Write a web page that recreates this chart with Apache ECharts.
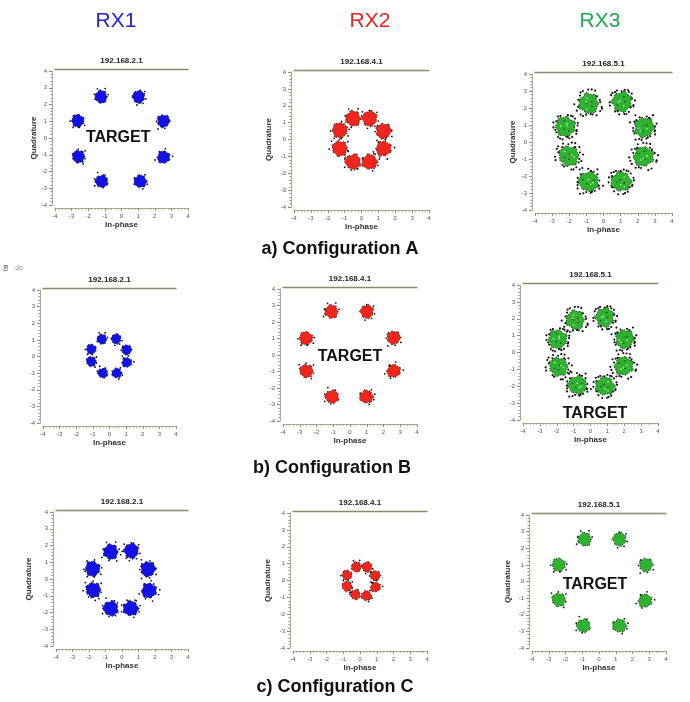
<!DOCTYPE html>
<html>
<head>
<meta charset="utf-8">
<script src="https://cdn.jsdelivr.net/npm/echarts@6/dist/echarts.min.js"></script>
<style>
  html, body { margin: 0; padding: 0; background: #fff; }
  #chart { width: 690px; height: 702px; }
</style>
</head>
<body>
<div id="chart"></div>
<script>
// 8-PSK constellation cluster centres [In-phase, Quadrature] per receiver / configuration
const rx1A = [[-1.23, 2.46], [1.03, 2.46], [2.53, 1.01], [2.53, -1.15], [1.13, -2.59], [-1.19, -2.59], [-2.59, -1.11], [-2.63, 1.03]];
const rx2A = [[-0.50, 1.24], [0.48, 1.24], [1.31, 0.50], [1.31, -0.54], [0.48, -1.33], [-0.50, -1.33], [-1.29, -0.54], [-1.29, 0.54]];
const rx3A = [[-0.87, 2.27], [1.08, 2.37], [2.38, 0.86], [2.34, -0.86], [1.02, -2.33], [-0.87, -2.33], [-2.03, -0.82], [-2.23, 0.90]];
const rx1B = [[-0.46, 1.04], [0.40, 1.06], [1.04, 0.40], [1.04, -0.36], [0.44, -1.00], [-0.40, -1.00], [-1.10, -0.30], [-1.10, 0.44]];
const rx2B = [[-1.11, 2.63], [1.01, 2.63], [2.61, 1.05], [2.61, -0.97], [0.98, -2.53], [-1.07, -2.53], [-2.61, -0.97], [-2.63, 1.01]];
const rx3B = [[-0.91, 1.93], [0.85, 2.08], [2.03, 0.80], [1.97, -0.80], [0.85, -1.99], [-0.78, -1.93], [-1.90, -0.84], [-1.95, 0.78]];
const rx1C = [[-0.68, 1.62], [0.57, 1.68], [1.58, 0.59], [1.64, -0.70], [0.53, -1.76], [-0.68, -1.76], [-1.74, -0.66], [-1.78, 0.61]];
const rx2C = [[-0.22, 0.80], [0.42, 0.80], [0.92, 0.29], [0.92, -0.39], [0.38, -0.90], [-0.28, -0.84], [-0.78, -0.35], [-0.78, 0.31]];
const rx3C = [[-0.86, 2.54], [1.22, 2.54], [2.81, 1.00], [2.75, -1.16], [1.22, -2.66], [-0.92, -2.66], [-2.41, -1.10], [-2.41, 1.00]];

// cluster spread (radius in I/Q units) for each panel, row by row
const clusterRadius = [0.38, 0.45, 0.58, 0.30, 0.40, 0.55, 0.45, 0.30, 0.40];

const receivers = ['RX1', 'RX2', 'RX3'];
const receiverIPs = ['192.168.2.1', '192.168.4.1', '192.168.5.1'];
const configurations = ['a) Configuration A', 'b) Configuration B', 'c) Configuration C'];
const axisMin = -4, axisMax = 4, axisStep = 1;

const panelData = [rx1A, rx2A, rx3A, rx1B, rx2B, rx3B, rx1C, rx2C, rx3C];

// ---- layout & styling ----
const FONT = '"Liberation Sans", Arial, sans-serif';
const receiverColors = ['#1212e6', '#f0261c', '#2fb22f'];
const headerColors = ['#2323d0', '#e8231f', '#1fa84f'];
const panels = [
  { left: 55,  top: 71,  w: 133, h: 134, qGap: 12 },
  { left: 294, top: 72,  w: 135, h: 135, qGap: 18 },
  { left: 535, top: 74,  w: 137, h: 136, qGap: 15 },
  { left: 43,  top: 290, w: 133, h: 133, qGap: null },
  { left: 283, top: 289, w: 134, h: 132, qGap: null },
  { left: 523, top: 285, w: 135, h: 135, qGap: null },
  { left: 56,  top: 512, w: 132, h: 134, qGap: 20 },
  { left: 293, top: 513, w: 134, h: 135, qGap: 18 },
  { left: 532, top: 515, w: 134, h: 133, qGap: 17 }
];
// how many stray (noisy) samples surround each cluster
const strayCount = [4, 6, 22, 3, 5, 22, 8, 3, 5];
// where the "TARGET" marker label sits, in I/Q units (null = none)
const targetAt = [[-0.2, 0.05], null, null, null, [0.0, -0.1], [0.27, -3.62], null, null, [-0.24, -0.2]];

const BUMPS = [1.0, 0.86, 1.1, 0.92, 1.14, 0.88, 1.03, 0.93, 1.12, 0.85, 1.06, 0.95, 1.12, 0.9];
const STRAY_ANGLE = [0.3, 1.1, 2.0, 2.8, 3.7, 4.5, 5.3, 6.0, 0.7, 1.6, 2.4, 3.2, 4.1, 4.9, 5.7, 0.1, 1.35, 2.2, 3.45, 4.3, 5.05, 5.9, 0.95, 2.6];
const STRAY_DIST = [1.18, 1.32, 1.08, 1.45, 1.24, 1.12, 1.38, 1.2, 1.52, 1.1, 1.28, 1.16, 1.4, 1.06, 1.3];
const SPECK_ANGLE = [0.5, 1.9, 3.1, 4.4, 5.6, 2.5];
const SPECK_DIST = [0.35, 0.55, 0.2, 0.6, 0.45, 0.3];

function clusterRenderer(p) {
  const color = receiverColors[p % 3];
  const noisy = strayCount[p] > 10;
  return function (params, api) {
    const c = api.coord([api.value(0), api.value(1)]);
    const s = api.size([api.value(2), api.value(2)]);
    const k = params.dataIndex;
    const pts = [];
    for (let i = 0; i < BUMPS.length; i++) {
      const a = (i / BUMPS.length) * Math.PI * 2 + k * 0.9;
      const f = BUMPS[(i + k * 3) % BUMPS.length];
      pts.push([c[0] + s[0] * f * Math.cos(a), c[1] - s[1] * f * Math.sin(a)]);
    }
    const children = [{
      type: 'polygon',
      shape: { points: pts, smooth: 0.35 },
      style: { fill: color, stroke: '#141414', lineWidth: 0.9, lineDash: [1.2, 1.4] }
    }];
    for (let j = 0; j < strayCount[p]; j++) {
      const a = STRAY_ANGLE[(j + k * 5) % STRAY_ANGLE.length];
      const d = STRAY_DIST[(j * 3 + k) % STRAY_DIST.length];
      children.push({
        type: 'circle',
        shape: { cx: c[0] + s[0] * d * Math.cos(a), cy: c[1] - s[1] * d * Math.sin(a), r: noisy ? 1.1 : 0.9 },
        style: { fill: '#151515' }
      });
    }
    if (noisy) {
      for (let j = 0; j < SPECK_ANGLE.length; j++) {
        const a = SPECK_ANGLE[j] + k * 0.7;
        const d = SPECK_DIST[(j + k) % SPECK_DIST.length];
        children.push({
          type: 'circle',
          shape: { cx: c[0] + s[0] * d * Math.cos(a), cy: c[1] - s[1] * d * Math.sin(a), r: 0.8 },
          style: { fill: j % 2 ? '#c8f5c8' : '#1e3b1e' }
        });
      }
    }
    return { type: 'group', children: children };
  };
}

const grid = [], xAxis = [], yAxis = [], series = [], graphic = [];

panels.forEach(function (g, p) {
  grid.push({ left: g.left, top: g.top, width: g.w, height: g.h, containLabel: false });
  const tickStyle = {
    axisLine: { show: true, onZero: false, lineStyle: { color: '#a9a98f', width: 1 } },
    axisTick: { show: true, length: 3, lineStyle: { color: '#8d8d7a' } },
    minorTick: { show: true, splitNumber: 5, length: 1.6, lineStyle: { color: '#9c9c88' } },
    splitLine: { show: false },
    axisLabel: { fontSize: 6, color: '#555', fontFamily: FONT, margin: 5 }
  };
  xAxis.push(Object.assign({
    gridIndex: p, type: 'value', min: axisMin, max: axisMax, interval: axisStep, offset: 3,
    name: 'In-phase', nameLocation: 'middle', nameGap: 13,
    nameTextStyle: { fontSize: 8, fontWeight: 'bold', color: '#333', fontFamily: FONT }
  }, tickStyle));
  // plain upper frame line
  xAxis.push({
    gridIndex: p, type: 'value', position: 'top', min: axisMin, max: axisMax, offset: 2,
    axisLine: { show: true, onZero: false, lineStyle: { color: '#8a8a66', width: 1.3 } },
    axisTick: { show: false }, axisLabel: { show: false }, splitLine: { show: false }
  });
  yAxis.push(Object.assign({
    gridIndex: p, type: 'value', min: axisMin, max: axisMax, interval: axisStep, offset: 3,
    name: g.qGap !== null ? 'Quadrature' : '', nameLocation: 'middle', nameGap: g.qGap || 12,
    nameTextStyle: { fontSize: 8, fontWeight: 'bold', color: '#333', fontFamily: FONT }
  }, tickStyle));

  series.push({
    type: 'custom',
    xAxisIndex: p * 2, yAxisIndex: p,
    renderItem: clusterRenderer(p),
    data: panelData[p].map(function (pt) { return [pt[0], pt[1], clusterRadius[p]]; }),
    clip: false,
    silent: true
  });

  if (targetAt[p]) {
    series.push({
      type: 'scatter',
      xAxisIndex: p * 2, yAxisIndex: p,
      symbol: 'circle', symbolSize: 0,
      itemStyle: { color: '#ffffff', opacity: 1 },
      data: [targetAt[p]],
      z: 5,
      label: {
        show: true, position: 'inside', formatter: 'TARGET',
        fontSize: 16, fontWeight: 'bold', color: '#111111', fontFamily: FONT,
        textBorderWidth: 0, opacity: 1
      },
      silent: true
    });
  }

  graphic.push({
    type: 'text', x: g.left + g.w / 2, y: g.top - 10,
    style: {
      text: receiverIPs[p % 3], textAlign: 'center', textVerticalAlign: 'middle',
      font: 'bold 8px ' + FONT, fill: '#222'
    }
  });
});

// receiver headers
[116, 370, 600].forEach(function (x, i) {
  graphic.push({
    type: 'text', x: x, y: 21,
    style: { text: receivers[i], textAlign: 'center', textVerticalAlign: 'middle', font: '21px ' + FONT, fill: headerColors[i] }
  });
});
// configuration captions
[[340, 249], [332, 468], [335, 687]].forEach(function (pos, i) {
  graphic.push({
    type: 'text', x: pos[0], y: pos[1],
    style: { text: configurations[i], textAlign: 'center', textVerticalAlign: 'middle', font: 'bold 18px ' + FONT, fill: '#111' }
  });
});
// leftover scale fragment at the top-left of row two
graphic.push({
  type: 'text', x: 14, y: 268,
  style: { text: '-20', textAlign: 'left', textVerticalAlign: 'middle', font: '6px ' + FONT, fill: '#777' }
});
graphic.push({
  type: 'text', x: 6, y: 268, rotation: -Math.PI / 2,
  style: { text: 'B)', textAlign: 'center', textVerticalAlign: 'middle', font: 'bold 6px ' + FONT, fill: '#666' }
});

const chart = echarts.init(document.getElementById('chart'), null, { renderer: 'canvas' });
chart.setOption({
  animation: false,
  backgroundColor: '#ffffff',
  grid: grid,
  xAxis: xAxis,
  yAxis: yAxis,
  series: series,
  graphic: graphic
});
</script>
</body>
</html>
